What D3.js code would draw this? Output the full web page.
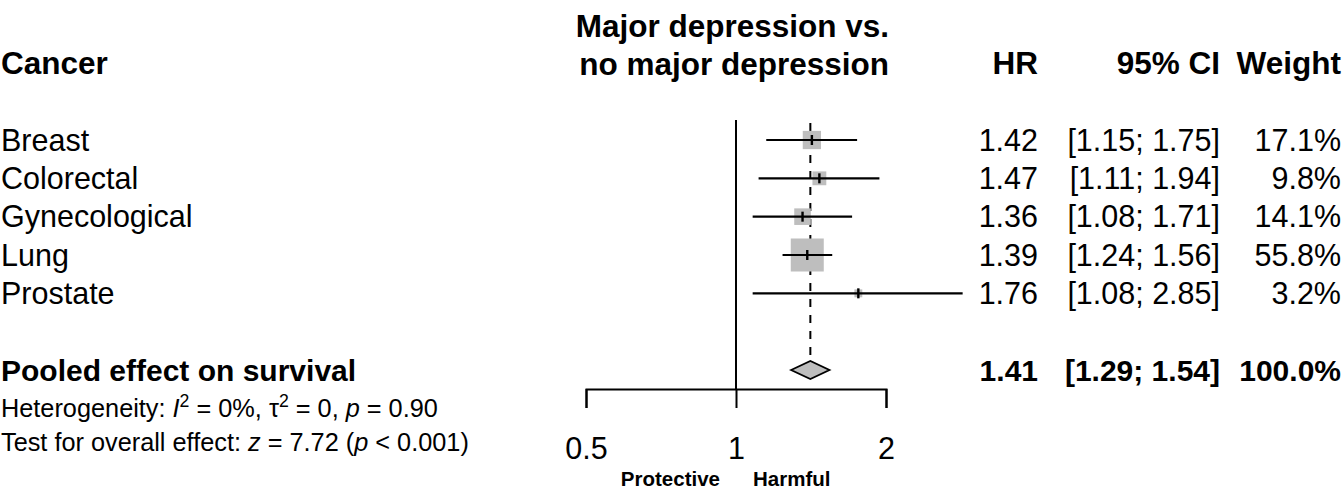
<!DOCTYPE html>
<html><head><meta charset="utf-8">
<script src="https://cdn.jsdelivr.net/npm/d3@7"></script>
<style>
html,body{margin:0;padding:0;background:#fff;}
svg text{font-family:"Liberation Sans",Arial,Helvetica,sans-serif;fill:#000;}
</style></head>
<body><svg id="c" width="1344" height="491"></svg>
<script>
// ---- data ----
const cancers = ["Breast","Colorectal","Gynecological","Lung","Prostate"];
const hrValues = [1.42,1.47,1.36,1.39,1.76];
const ciLower = [1.15,1.11,1.08,1.24,1.08];
const ciUpper = [1.75,1.94,1.71,1.56,2.85];
const weights = [17.1,9.8,14.1,55.8,3.2];
const pooledLabel = "Pooled effect on survival";
const pooledHR = 1.41, pooledLower = 1.29, pooledUpper = 1.54, pooledWeight = 100.0;
const tickValues = [0.5,1,2];
const headers = {study:"Cancer", plot:["Major depression vs.","no major depression"], hr:"HR", ci:"95% CI", w:"Weight"};
const leftLabel = "Protective", rightLabel = "Harmful";

// ---- layout ----
const svg = d3.select("#c");
const FS = 30.5, FShead = 31.5, FSpool = 30, FSsmall = 25.3;
const x = d3.scaleLog().base(2).domain([0.5,2]).range([586,886]);
const y = d3.scaleLinear().domain([0,6]).range([140,370]);
const boxSize = d3.scaleSqrt().domain([0,55.8]).range([0,33]);
const colHR = 1038, colCI = 1220, colW = 1341, colStudy = 1;
const f2 = d3.format(".2f"), f1 = d3.format(".1f");

// headers
const hdr = svg.append("g").attr("font-weight","bold").attr("font-size",FShead);
hdr.append("text").attr("x",colStudy).attr("y",74).text(headers.study);
hdr.append("text").attr("x",889).attr("y",37).attr("text-anchor","end").text(headers.plot[0]);
hdr.append("text").attr("x",889).attr("y",75).attr("text-anchor","end").text(headers.plot[1]);
hdr.append("text").attr("x",colHR).attr("y",74).attr("text-anchor","end").text(headers.hr);
hdr.append("text").attr("x",colCI).attr("y",74).attr("text-anchor","end").text(headers.ci);
hdr.append("text").attr("x",colW).attr("y",74).attr("text-anchor","end").text(headers.w);

// reference lines
svg.append("line").attr("x1",x(1)).attr("x2",x(1)).attr("y1",120).attr("y2",389)
  .attr("stroke","#000").attr("stroke-width",2);
svg.append("line").attr("x1",x(pooledHR)).attr("x2",x(pooledHR)).attr("y1",123).attr("y2",361)
  .attr("stroke","#000").attr("stroke-width",2).attr("stroke-dasharray","8,8");

// study rows
const rows = svg.append("g").selectAll("g").data(cancers).join("g");
rows.append("rect")
  .attr("x",(d,i)=>x(hrValues[i])-boxSize(weights[i])/2)
  .attr("y",(d,i)=>y(i)-boxSize(weights[i])/2)
  .attr("width",(d,i)=>boxSize(weights[i]))
  .attr("height",(d,i)=>boxSize(weights[i]))
  .attr("fill","#bebebe");
rows.append("line")
  .attr("x1",(d,i)=>x(ciLower[i])).attr("x2",(d,i)=>x(ciUpper[i]))
  .attr("y1",(d,i)=>y(i)).attr("y2",(d,i)=>y(i))
  .attr("stroke","#000").attr("stroke-width",2.2);
rows.append("line")
  .attr("x1",(d,i)=>x(hrValues[i])).attr("x2",(d,i)=>x(hrValues[i]))
  .attr("y1",(d,i)=>y(i)-5).attr("y2",(d,i)=>y(i)+5)
  .attr("stroke","#000").attr("stroke-width",2.4);
rows.append("text").attr("font-size",FS).attr("x",colStudy).attr("y",(d,i)=>y(i)+10.8).text(d=>d);
rows.append("text").attr("font-size",FS).attr("x",colHR).attr("y",(d,i)=>y(i)+10.8)
  .attr("text-anchor","end").text((d,i)=>f2(hrValues[i]));
rows.append("text").attr("font-size",FS).attr("x",colCI).attr("y",(d,i)=>y(i)+10.8)
  .attr("text-anchor","end")
  .text((d,i)=>"["+f2(ciLower[i])+"; "+f2(ciUpper[i])+"]");
rows.append("text").attr("font-size",FS).attr("x",colW).attr("y",(d,i)=>y(i)+10.8)
  .attr("text-anchor","end").text((d,i)=>f1(weights[i])+"%");

// pooled
const py = y(6);
svg.append("path")
  .attr("d",`M${x(pooledLower)},${py}L${x(pooledHR)},${py-9}L${x(pooledUpper)},${py}L${x(pooledHR)},${py+9}Z`)
  .attr("fill","#bebebe").attr("stroke","#000").attr("stroke-width",1.8);
const pg = svg.append("g").attr("font-weight","bold").attr("font-size",FSpool);
pg.append("text").attr("x",colStudy).attr("y",py+10.8).text(pooledLabel);
pg.append("text").attr("x",colHR).attr("y",py+10.8).attr("text-anchor","end").text(f2(pooledHR));
pg.append("text").attr("x",colCI).attr("y",py+10.8).attr("text-anchor","end").text("["+f2(pooledLower)+"; "+f2(pooledUpper)+"]");
pg.append("text").attr("x",colW).attr("y",py+10.8).attr("text-anchor","end").text(f1(pooledWeight)+"%");

// heterogeneity / test text
const het = svg.append("text").attr("font-size",FSsmall).attr("x",colStudy).attr("y",417);
het.append("tspan").text("Heterogeneity: ");
het.append("tspan").attr("font-style","italic").text("I");
het.append("tspan").attr("font-size",FSsmall*0.7).attr("dy",-10).text("2");
het.append("tspan").attr("dy",10).text(" = 0%, \u03C4");
het.append("tspan").attr("font-size",FSsmall*0.7).attr("dy",-10).text("2");
het.append("tspan").attr("dy",10).text(" = 0, ");
het.append("tspan").attr("font-style","italic").text("p");
het.append("tspan").text(" = 0.90");
const tst = svg.append("text").attr("font-size",FSsmall).attr("x",colStudy).attr("y",451);
tst.append("tspan").text("Test for overall effect: ");
tst.append("tspan").attr("font-style","italic").text("z");
tst.append("tspan").text(" = 7.72 (");
tst.append("tspan").attr("font-style","italic").text("p");
tst.append("tspan").text(" < 0.001)");

// axis
const axis = d3.axisBottom(x).tickValues(tickValues).tickSize(19).tickSizeOuter(19)
  .tickPadding(29).tickFormat(d3.format(""));
const ag = svg.append("g").attr("transform","translate(0,389)").call(axis);
ag.attr("font-family",null).attr("font-size",null);
ag.selectAll("path,line").attr("stroke","#000").attr("stroke-width",2);
ag.selectAll("text").attr("font-size",FS).attr("fill","#000");

// direction labels
const dl = svg.append("g").attr("font-weight","bold").attr("font-size",20.5);
dl.append("text").attr("x",x(1)-16).attr("y",486).attr("text-anchor","end").text(leftLabel);
dl.append("text").attr("x",x(1)+17).attr("y",486).text(rightLabel);
</script></body></html>
